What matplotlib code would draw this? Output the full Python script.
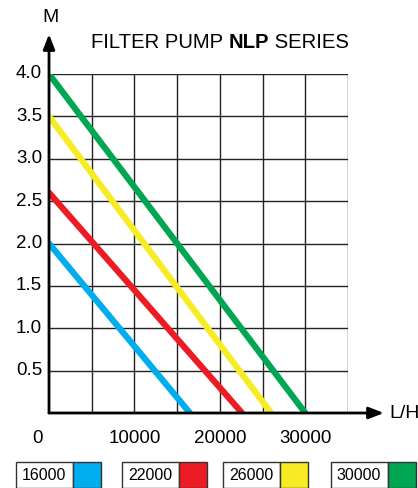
import matplotlib.pyplot as plt
from matplotlib.patches import Rectangle

plt.rcParams['font.family'] = ['Liberation Sans', 'DejaVu Sans']

# pump models: max flow (L/H) and max head (M)
models = ['16000', '22000', '26000', '30000']
max_head = [2.0, 2.6, 3.5, 4.0]
max_flow = [16500, 22600, 26000, 30000]
colors = ['#00aeef', '#ed1c24', '#f7ec24', '#00a651']

x_ticks = [0, 10000, 20000, 30000]
y_ticks = [0.5, 1.0, 1.5, 2.0, 2.5, 3.0, 3.5, 4.0]

W, H = 418, 488
fig = plt.figure(figsize=(W / 100, H / 100), dpi=100)
ax = fig.add_axes([49 / W, (H - 413) / H, (348 - 49) / W, (413 - 74) / H])
ax.set_xlim(0, 35000)
ax.set_ylim(0, 4.0)

# grid
for gx in range(5000, 35001, 5000):
    ax.plot([gx, gx], [0, 4.0], color='#222222', lw=1.0, zorder=1)
for gy in y_ticks:
    ax.plot([0, 35000], [gy, gy], color='#222222', lw=1.0, zorder=1)

# curves
for h, q, c in zip(max_head, max_flow, colors):
    ax.plot([0, q], [h, 0], color=c, lw=4.5, solid_capstyle='round', zorder=3)

for s in ax.spines.values():
    s.set_visible(False)
ax.set_xticks([])
ax.set_yticks([])

# axes with arrows
arrow = dict(arrowstyle='-|>,head_length=0.9,head_width=0.35', color='black', lw=2.0,
             shrinkA=0, shrinkB=0)
ax.annotate('', xy=(39200, 0), xytext=(0, 0), annotation_clip=False, arrowprops=arrow)
ax.annotate('', xy=(0, 4.47), xytext=(0, 0), annotation_clip=False, arrowprops=arrow)

for t in y_ticks:
    ax.text(-800, t, f'{t:.1f}', ha='right', va='center', fontsize=13.5, color='black')
for t in x_ticks:
    xx = t if t else -1400
    ax.text(xx, -0.2, str(t), ha='center', va='top', fontsize=13.5, color='black')

fig.text(50 / W, 1 - 17 / H, 'M', ha='center', va='center', fontsize=14)
fig.text(389 / W, 1 - 413 / H, 'L/H', ha='left', va='center', fontsize=14)

# title, mixed weights placed one after another
r = fig.canvas.get_renderer()
tx = 91
ty = 1 - 43 / H
for part, wt in [('FILTER PUMP ', 'normal'), ('NLP', 'bold'), (' SERIES', 'normal')]:
    t = fig.text(tx / W, ty, part, ha='left', va='center', fontsize=14.6, fontweight=wt)
    tx += t.get_window_extent(r).width

# legend boxes
box_x = [16, 122, 223, 331]
for bx, m, c in zip(box_x, models, colors):
    fig.add_artist(Rectangle((bx / W, 0), 57 / W, (H - 462) / H, transform=fig.transFigure,
                             facecolor='white', edgecolor='#333333', lw=1.0))
    fig.add_artist(Rectangle(((bx + 57) / W, 0), 28 / W, (H - 462) / H, transform=fig.transFigure,
                             facecolor=c, edgecolor='#333333', lw=1.0))
    fig.text((bx + 28) / W, 1 - 476 / H, m, ha='center', va='center', fontsize=11.5)

fig.savefig('out.png', dpi=100)
